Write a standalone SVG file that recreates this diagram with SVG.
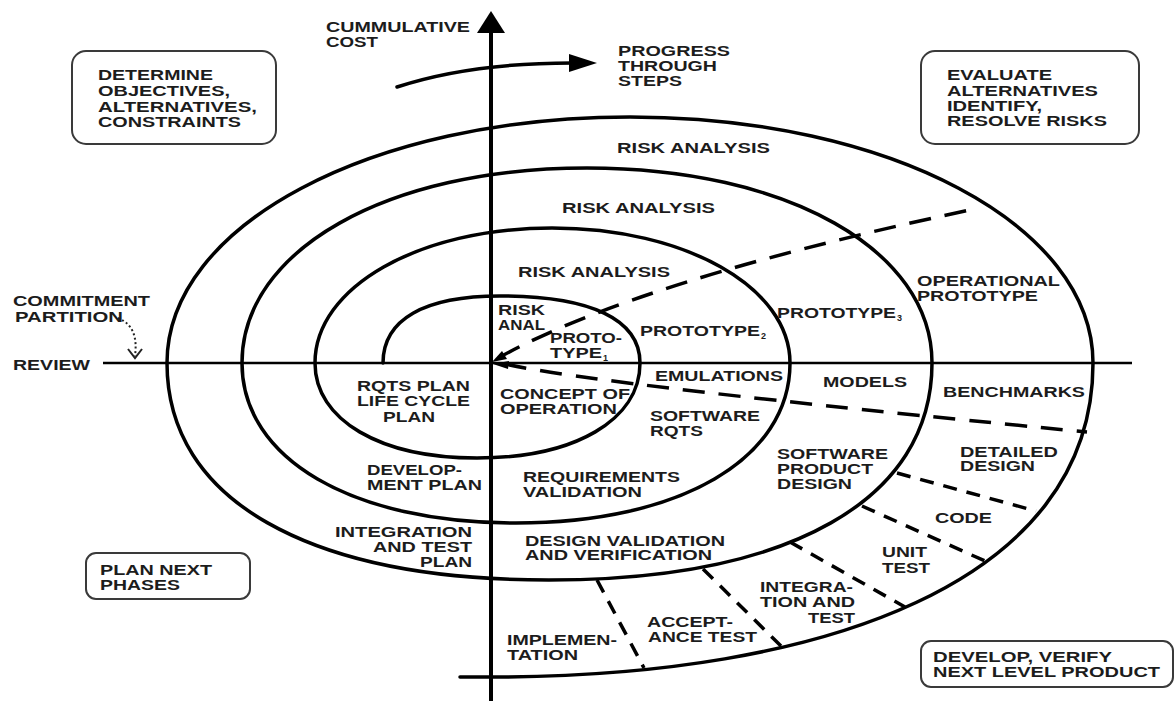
<svg xmlns="http://www.w3.org/2000/svg" width="1175" height="701" viewBox="0 0 1175 701">
<style>
.t{font-family:"Liberation Sans",Arial,Helvetica,sans-serif;font-weight:bold;font-size:14.5px;fill:#1c1c1c}
.s{font-family:"Liberation Sans",Arial,Helvetica,sans-serif;font-weight:bold;font-size:9px;fill:#1c1c1c}
.box{fill:#fff;stroke:#3a3a3a;stroke-width:2}
.sp{fill:none;stroke:#000;stroke-width:3.5;stroke-linecap:round;stroke-linejoin:round}
.ax{fill:none;stroke:#000}
.d1{fill:none;stroke:#000;stroke-width:3.5;stroke-dasharray:22 14}
.d2{fill:none;stroke:#000;stroke-width:3.5;stroke-dasharray:14 10}
</style>
<rect width="1175" height="701" fill="#fff"/>
<g id="connectors">
<path id="spiral" class="sp" d="M383,363 C383,319.5 424,296 500,296 C591,296 640,319.5 640,363 C640,420 575,458 477,458 C380,458 315,420 315,363 C315,287 419,228 552,228 C685,228 790,287 790,363 C790,459 680,523 516,523 C352,523 242,459 242,363 C242,250 387,168 587,168 C787,168 932,250 932,363 C932,500 790,580 549,580 C308,580 167,500 167,363 C167,225 371,117 630,117 C889,117 1093,225 1093,363 C1093,583 822,677 491,677 L460,677"/>
<line class="ax" x1="103" y1="363" x2="1132" y2="363" stroke-width="2.5"/>
<line class="ax" x1="491" y1="28" x2="491" y2="701" stroke-width="4"/>
<polygon points="491,11 505,33 477,33" fill="#000"/>
<path class="ax" d="M397,87 Q470,63 572,63" stroke-width="3.5" stroke-linecap="round"/>
<polygon points="569,54 597,63 569,72" fill="#000"/>
<path class="d1" d="M500,357 Q640,280 970,210"/>
<path class="d1" d="M505,364 Q600,385 1087,432"/>
<polygon points="492,362 502,351 507,359" fill="#000"/>
<polygon points="493,364 509,361 508,369" fill="#000"/>
<path class="d2" d="M897,473 L1036,511"/>
<path class="d2" d="M862,506 L985,561"/>
<path class="d2" d="M790,542 L905,607"/>
<path class="d2" d="M703,569 L781,646"/>
<path class="d2" d="M597,580 L644,668"/>
<path d="M118,318 C135,325 137,340 135,356" fill="none" stroke="#222" stroke-width="2" stroke-dasharray="2 2.5"/>
<path d="M128,349 L135,358 L142,349" fill="none" stroke="#222" stroke-width="2"/>
</g>
<g id="box-determine">
<rect class="box" x="72" y="51" width="204" height="93" rx="14"/>
<text class="t" x="98" y="80" textLength="115" lengthAdjust="spacingAndGlyphs">DETERMINE</text>
<text class="t" x="98" y="96" textLength="132" lengthAdjust="spacingAndGlyphs">OBJECTIVES,</text>
<text class="t" x="98" y="112" textLength="159" lengthAdjust="spacingAndGlyphs">ALTERNATIVES,</text>
<text class="t" x="98" y="127" textLength="143" lengthAdjust="spacingAndGlyphs">CONSTRAINTS</text>
</g>
<g id="box-evaluate">
<rect class="box" x="921" y="51" width="218" height="93" rx="14"/>
<text class="t" x="947" y="80" textLength="105" lengthAdjust="spacingAndGlyphs">EVALUATE</text>
<text class="t" x="947" y="96" textLength="151" lengthAdjust="spacingAndGlyphs">ALTERNATIVES</text>
<text class="t" x="947" y="111" textLength="95" lengthAdjust="spacingAndGlyphs">IDENTIFY,</text>
<text class="t" x="947" y="126" textLength="160" lengthAdjust="spacingAndGlyphs">RESOLVE RISKS</text>
</g>
<g id="box-plan">
<rect class="box" x="86" y="553" width="164" height="46" rx="10"/>
<text class="t" x="100" y="575" textLength="112" lengthAdjust="spacingAndGlyphs">PLAN NEXT</text>
<text class="t" x="100" y="590" textLength="80" lengthAdjust="spacingAndGlyphs">PHASES</text>
</g>
<g id="box-develop">
<rect class="box" x="921" y="641" width="252" height="46" rx="10"/>
<text class="t" x="933" y="662" textLength="179" lengthAdjust="spacingAndGlyphs">DEVELOP, VERIFY</text>
<text class="t" x="933" y="677" textLength="227" lengthAdjust="spacingAndGlyphs">NEXT LEVEL PRODUCT</text>
</g>
<g id="axis-labels">
<text class="t" x="326" y="32" textLength="144" lengthAdjust="spacingAndGlyphs">CUMMULATIVE</text>
<text class="t" x="326" y="47" textLength="52" lengthAdjust="spacingAndGlyphs">COST</text>
<text class="t" x="618" y="56" textLength="112" lengthAdjust="spacingAndGlyphs">PROGRESS</text>
<text class="t" x="618" y="71" textLength="99" lengthAdjust="spacingAndGlyphs">THROUGH</text>
<text class="t" x="618" y="86" textLength="64" lengthAdjust="spacingAndGlyphs">STEPS</text>
<text class="t" x="13" y="306" textLength="137" lengthAdjust="spacingAndGlyphs">COMMITMENT</text>
<text class="t" x="15" y="322" textLength="108" lengthAdjust="spacingAndGlyphs">PARTITION</text>
<text class="t" x="13" y="370" textLength="77" lengthAdjust="spacingAndGlyphs">REVIEW</text>
</g>
<g id="risk-analysis">
<text class="t" x="617" y="153" textLength="153" lengthAdjust="spacingAndGlyphs">RISK ANALYSIS</text>
<text class="t" x="562" y="213" textLength="153" lengthAdjust="spacingAndGlyphs">RISK ANALYSIS</text>
<text class="t" x="518" y="277" textLength="152" lengthAdjust="spacingAndGlyphs">RISK ANALYSIS</text>
<text class="t" x="498" y="315" textLength="47" lengthAdjust="spacingAndGlyphs">RISK</text>
<text class="t" x="498" y="330" textLength="47" lengthAdjust="spacingAndGlyphs">ANAL</text>
</g>
<g id="prototypes">
<text class="t" x="550" y="343" textLength="72" lengthAdjust="spacingAndGlyphs">PROTO-</text>
<text class="t" x="550" y="358" textLength="52" lengthAdjust="spacingAndGlyphs">TYPE</text>
<text class="s" x="603" y="361">1</text>
<text class="t" x="640" y="336" textLength="120" lengthAdjust="spacingAndGlyphs">PROTOTYPE</text>
<text class="s" x="761" y="339">2</text>
<text class="t" x="777" y="318" textLength="119" lengthAdjust="spacingAndGlyphs">PROTOTYPE</text>
<text class="s" x="897" y="321">3</text>
<text class="t" x="917" y="286" textLength="143" lengthAdjust="spacingAndGlyphs">OPERATIONAL</text>
<text class="t" x="917" y="301" textLength="121" lengthAdjust="spacingAndGlyphs">PROTOTYPE</text>
</g>
<g id="models">
<text class="t" x="655" y="381" textLength="128" lengthAdjust="spacingAndGlyphs">EMULATIONS</text>
<text class="t" x="823" y="387" textLength="84" lengthAdjust="spacingAndGlyphs">MODELS</text>
<text class="t" x="943" y="397" textLength="142" lengthAdjust="spacingAndGlyphs">BENCHMARKS</text>
</g>
<g id="requirements">
<text class="t" x="500" y="399" textLength="130" lengthAdjust="spacingAndGlyphs">CONCEPT OF</text>
<text class="t" x="500" y="414" textLength="117" lengthAdjust="spacingAndGlyphs">OPERATION</text>
<text class="t" x="650" y="421" textLength="110" lengthAdjust="spacingAndGlyphs">SOFTWARE</text>
<text class="t" x="650" y="436" textLength="53" lengthAdjust="spacingAndGlyphs">RQTS</text>
<text class="t" x="777" y="459" textLength="111" lengthAdjust="spacingAndGlyphs">SOFTWARE</text>
<text class="t" x="777" y="474" textLength="96" lengthAdjust="spacingAndGlyphs">PRODUCT</text>
<text class="t" x="777" y="489" textLength="75" lengthAdjust="spacingAndGlyphs">DESIGN</text>
<text class="t" x="960" y="457" textLength="98" lengthAdjust="spacingAndGlyphs">DETAILED</text>
<text class="t" x="960" y="471" textLength="75" lengthAdjust="spacingAndGlyphs">DESIGN</text>
<text class="t" x="523" y="482" textLength="157" lengthAdjust="spacingAndGlyphs">REQUIREMENTS</text>
<text class="t" x="523" y="497" textLength="119" lengthAdjust="spacingAndGlyphs">VALIDATION</text>
<text class="t" x="525" y="546" textLength="200" lengthAdjust="spacingAndGlyphs">DESIGN VALIDATION</text>
<text class="t" x="525" y="560" textLength="187" lengthAdjust="spacingAndGlyphs">AND VERIFICATION</text>
</g>
<g id="plans">
<text class="t" x="357" y="391" textLength="113" lengthAdjust="spacingAndGlyphs">RQTS PLAN</text>
<text class="t" x="357" y="406" textLength="113" lengthAdjust="spacingAndGlyphs">LIFE CYCLE</text>
<text class="t" x="383" y="422" textLength="52" lengthAdjust="spacingAndGlyphs">PLAN</text>
<text class="t" x="367" y="475" textLength="95" lengthAdjust="spacingAndGlyphs">DEVELOP-</text>
<text class="t" x="367" y="490" textLength="115" lengthAdjust="spacingAndGlyphs">MENT PLAN</text>
<text class="t" x="335" y="537" textLength="137" lengthAdjust="spacingAndGlyphs">INTEGRATION</text>
<text class="t" x="373" y="552" textLength="99" lengthAdjust="spacingAndGlyphs">AND TEST</text>
<text class="t" x="420" y="567" textLength="52" lengthAdjust="spacingAndGlyphs">PLAN</text>
</g>
<g id="develop-steps">
<text class="t" x="507" y="645" textLength="110" lengthAdjust="spacingAndGlyphs">IMPLEMEN-</text>
<text class="t" x="507" y="660" textLength="71" lengthAdjust="spacingAndGlyphs">TATION</text>
<text class="t" x="647" y="627" textLength="86" lengthAdjust="spacingAndGlyphs">ACCEPT-</text>
<text class="t" x="648" y="642" textLength="109" lengthAdjust="spacingAndGlyphs">ANCE TEST</text>
<text class="t" x="760" y="592" textLength="93" lengthAdjust="spacingAndGlyphs">INTEGRA-</text>
<text class="t" x="760" y="607" textLength="95" lengthAdjust="spacingAndGlyphs">TION AND</text>
<text class="t" x="808" y="623" textLength="47" lengthAdjust="spacingAndGlyphs">TEST</text>
<text class="t" x="882" y="557" textLength="45" lengthAdjust="spacingAndGlyphs">UNIT</text>
<text class="t" x="882" y="573" textLength="48" lengthAdjust="spacingAndGlyphs">TEST</text>
<text class="t" x="935" y="523" textLength="57" lengthAdjust="spacingAndGlyphs">CODE</text>
</g>
</svg>
